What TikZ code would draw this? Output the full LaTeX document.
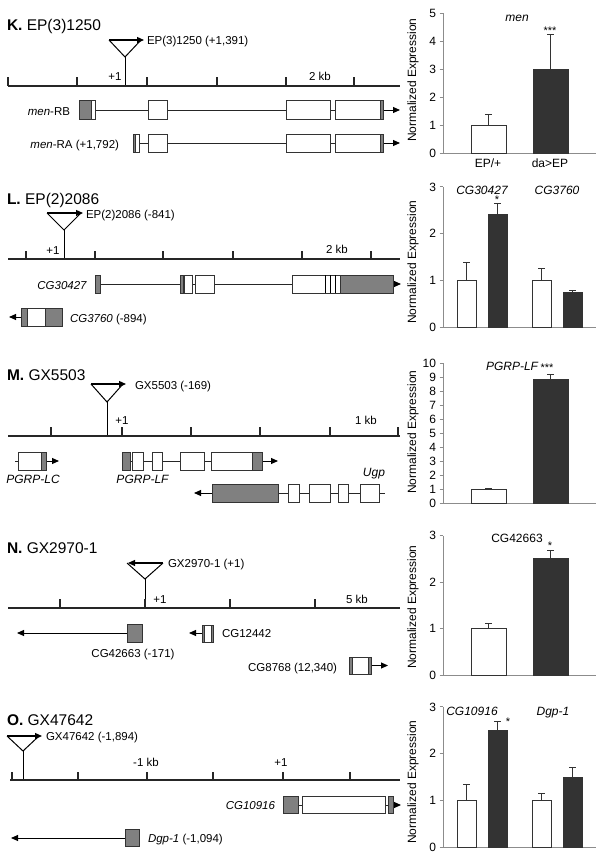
\documentclass[tikz,border=0pt]{standalone}
\usepackage{fontspec}
\setmainfont{Liberation Sans}
\usetikzlibrary{arrows.meta}
\newcommand\chartframe[5]{%
  \draw[caxis] (443,{#2-#4*#3}) -- (443,#2) -- (596,#2);
  \foreach \k in {0,...,#4} {
    \draw[caxis] (439.5,{#2-\k*#3}) -- (443,{#2-\k*#3});
    \node[ctick] (#1t\k) at (436,{#2-\k*#3}) {\k};
  }
  \node[ylab] (#1y) at (413,#5) {Normalized Expression};
}
\newcommand\valbar[7]{%
  \draw[#7] (#1,#3) rectangle (#2,{#3-#5*#4});
  \draw[errl] ({(#1+#2)/2},{#3-#5*#4}) -- ({(#1+#2)/2},{#3-#6*#4})
     ({(#1+#2)/2-3.5},{#3-#6*#4}) -- ({(#1+#2)/2+3.5},{#3-#6*#4});
}
\begin{document}
\begin{tikzpicture}[x=1pt,y=-1pt,
  every node/.style={inner sep=0pt, outer sep=0pt},
  ttl/.style={anchor=base west, font=\fontsize{15.5}{17}\selectfont},
  lab/.style={font=\fontsize{11.5}{13}\selectfont},
  gaxis/.style={line width=1.3pt, black!85},
  gtick/.style={line width=1.1pt, black!85},
  ins/.style={line width=1pt, black},
  insarrow/.style={line width=1.2pt, -{Triangle[length=7pt,width=6pt]}},
  intron/.style={line width=1pt, black!85},
  garrow/.style={line width=1pt, -{Triangle[length=7pt,width=6pt]}},
  exw/.style={draw=black!80, line width=0.7pt, fill=white},
  exg/.style={draw=black!80, line width=0.7pt, fill=black!50},
  caxis/.style={draw=black!45, line width=1pt},
  ctick/.style={anchor=east, font=\fontsize{12}{14}\selectfont},
  ylab/.style={rotate=90, font=\fontsize{12}{14}\selectfont},
  barw/.style={draw=black!80, line width=1pt, fill=white},
  bard/.style={draw=black!80, line width=1pt, fill=black!80},
  errl/.style={line width=1pt, black!80},
  star/.style={font=\fontsize{11}{12}\selectfont},
  gname/.style={font=\fontsize{12}{14}\selectfont\itshape, anchor=base},
  cname/.style={font=\fontsize{12}{14}\selectfont, anchor=base}
]
\useasboundingbox[fill=white] (0,0) rectangle (600,857);

%================ K =================
\node[ttl] (kT) at (7,30) {\textbf{K.} EP(3)1250};
\draw[ins] (109,40) -- (125,57) -- (141,40);
\draw[insarrow] (109,40) -- (144,40);
\draw[ins] (125,57) -- (125,86);
\node[lab, anchor=base west] (kI) at (147,44) {EP(3)1250 (+1,391)};
\draw[gaxis] (8,86) -- (400,86);
\foreach \t in {8,77,147,217,286,354} \draw[gtick] (\t,77) -- (\t,86);
\node[lab,anchor=base] (kP) at (115,80) {+1};
\node[lab,anchor=base] (kB) at (320,80) {2 kb};
% men-RB
\draw[intron] (91,110) -- (383,110);
\draw[garrow] (383,110) -- (400,110);
\draw[exg] (79,100) rectangle (91,119);
\draw[exw] (91,100) rectangle (95,119);
\draw[exw] (148,100) rectangle (167,119);
\draw[exw] (286,100) rectangle (330,119);
\draw[exw] (335,100) rectangle (380,119);
\draw[exg] (380,100) rectangle (383,119);
\node[lab,anchor=base east] (kRB) at (70,115) {\textit{men}-RB};
% men-RA
\draw[intron] (139,143) -- (383,143);
\draw[garrow] (383,143) -- (400,143);
\draw[exg] (133,134) rectangle (135,152);
\draw[exw] (135,134) rectangle (139,152);
\draw[exw] (148,134) rectangle (167,152);
\draw[exw] (286,134) rectangle (330,152);
\draw[exw] (335,134) rectangle (380,152);
\draw[exg] (380,134) rectangle (383,152);
\node[lab,anchor=base east] (kRA) at (119,148) {\textit{men}-RA (+1,792)};
% chart K
\chartframe{k}{153}{28}{5}{80}
\valbar{471}{506}{153}{28}{1}{1.38}{barw}
\valbar{533}{568}{153}{28}{3}{4.25}{bard}
\node[gname] (kG) at (517,21.5) {men};
\node[star] (kS) at (550,31) {***};
\node[cname] (kX1) at (488,167.5) {EP/+};
\node[cname] (kX2) at (550,167.5) {da>EP};

%================ L =================
\node[ttl] (lT) at (7,204) {\textbf{L.} EP(2)2086};
\draw[ins] (47,213) -- (64,230) -- (81,213);
\draw[insarrow] (47,213) -- (83,213);
\draw[ins] (64,230) -- (64,259);
\node[lab, anchor=base west] (lI) at (86,218) {EP(2)2086 (-841)};
\draw[gaxis] (8,259) -- (400,259);
\foreach \t in {26,95,163,233,302,371} \draw[gtick] (\t,251) -- (\t,259);
\node[lab,anchor=base] (lP) at (53,254) {+1};
\node[lab,anchor=base] (lB) at (337,253) {2 kb};
% CG30427
\draw[intron] (100,284) -- (393,284);
\draw[garrow] (393,284) -- (401,284);
\draw[exg] (95,275) rectangle (100,293);
\draw[exg] (180,275) rectangle (183.5,293);
\draw[exw] (184.5,275) rectangle (192,293);
\draw[exw] (195,275) rectangle (214,293);
\draw[exw] (292,275) rectangle (340,293);
\foreach \s in {325,330,335} \draw[line width=1pt] (\s,275) -- (\s,293);
\draw[exg] (340,275) rectangle (393,293);
\node[lab,anchor=base east] (lG1) at (87,289) {\textit{CG30427}};
% CG3760
\draw[garrow] (21,317) -- (9,317);
\draw[exg] (21,308) rectangle (27,326);
\draw[exw] (27,308) rectangle (45,326);
\draw[exg] (45,308) rectangle (62,326);
\node[lab,anchor=base west] (lG2) at (70,322) {\textit{CG3760} (-894)};
% chart L
\chartframe{l}{327}{46.67}{3}{262}
\valbar{457}{476}{327}{46.67}{1}{1.38}{barw}
\valbar{488}{507}{327}{46.67}{2.4}{2.65}{bard}
\valbar{532}{551}{327}{46.67}{1}{1.25}{barw}
\valbar{563}{582}{327}{46.67}{0.73}{0.78}{bard}
\node[gname] (lC1) at (482,194) {CG30427};
\node[gname] (lC2) at (557,194) {CG3760};
\node[star] (lS) at (497,200) {*};

%================ M =================
\node[ttl] (mT) at (7,380) {\textbf{M.} GX5503};
\draw[ins] (91,384) -- (107,402) -- (123,384);
\draw[insarrow] (91,384) -- (126,384);
\draw[ins] (107,402) -- (107,436);
\node[lab, anchor=base west] (mI) at (135,389) {GX5503 (-169)};
\draw[gaxis] (8,436) -- (400,436);
\foreach \t in {51,122,191,260,330,398} \draw[gtick] (\t,427) -- (\t,436);
\node[lab,anchor=base] (mP) at (122,424) {+1};
\node[lab,anchor=base] (mB) at (366,424) {1 kb};
% PGRP-LC
\draw[intron] (15,461) -- (46,461);
\draw[garrow] (46,461) -- (59,461);
\draw[exw] (18,452) rectangle (41,470);
\draw[exg] (41,452) rectangle (46,470);
\node[gname] (mG1) at (33,483) {PGRP-LC};
% PGRP-LF
\draw[intron] (130,461) -- (262,461);
\draw[garrow] (262,461) -- (278,461);
\draw[exg] (122,452) rectangle (130,470);
\draw[exw] (132,452) rectangle (143,470);
\draw[exw] (152,452) rectangle (162,470);
\draw[exw] (180,452) rectangle (204,470);
\draw[exw] (211,452) rectangle (252,470);
\draw[exg] (252,452) rectangle (262,470);
\node[gname] (mG2) at (142.5,483) {PGRP-LF};
% Ugp
\draw[intron] (212,493) -- (385,493);
\draw[garrow] (212,493) -- (194,493);
\draw[exg] (212,484) rectangle (278,502);
\draw[exw] (288,484) rectangle (299,502);
\draw[exw] (309,484) rectangle (330,502);
\draw[exw] (338,484) rectangle (348,502);
\draw[exw] (360,484) rectangle (379,502);
\node[gname] (mG3) at (374,476) {Ugp};
% chart M
\chartframe{m}{503}{14}{10}{432}
\valbar{471}{506}{503}{14}{1}{1.02}{barw}
\valbar{533}{568}{503}{14}{8.85}{9.2}{bard}
\node[gname] (mC) at (512,370) {PGRP-LF};
\node[star] (mS) at (547,368) {***};

%================ N =================
\node[ttl] (nT) at (7,553) {\textbf{N.} GX2970-1};
\draw[ins] (127,563) -- (145,579) -- (163,563);
\draw[insarrow] (163,563) -- (128,563);
\draw[ins] (145,579) -- (145,608);
\node[lab, anchor=base west] (nI) at (168,567) {GX2970-1 (+1)};
\draw[gaxis] (8,608) -- (400,608);
\foreach \t in {60,145,230,315} \draw[gtick] (\t,599) -- (\t,608);
\node[lab,anchor=base] (nP) at (160,603) {+1};
\node[lab,anchor=base] (nB) at (357,603) {5 kb};
% CG42663
\draw[garrow] (127,633) -- (17,633);
\draw[exg] (127,624) rectangle (142,642);
\node[lab,anchor=base] (nG1) at (133,657) {CG42663 (-171)};
% CG12442
\draw[garrow] (202,633) -- (189,633);
\draw[exg] (202,625) rectangle (204,642);
\draw[exw] (204,625) rectangle (211.5,642);
\draw[exg] (211.5,625) rectangle (213.5,642);
\node[lab,anchor=base west] (nG2) at (222,637) {CG12442};
% CG8768
\draw[garrow] (371,665.5) -- (388,665.5);
\draw[exg] (349,657) rectangle (352,674);
\draw[exw] (352,657) rectangle (368,674);
\draw[exg] (368,657) rectangle (371,674);
\node[lab,anchor=base east] (nG3) at (337,671) {CG8768 (12,340)};
% chart N
\chartframe{n}{675}{46.4}{3}{607}
\valbar{471}{506}{675}{46.4}{1}{1.1}{barw}
\valbar{533}{568}{675}{46.4}{2.52}{2.68}{bard}
\node[cname] (nC) at (517,542.5) {CG42663};
\node[star] (nS) at (550,546) {*};

%================ O =================
\node[ttl] (oT) at (7,725) {\textbf{O.} GX47642};
\draw[ins] (7,736) -- (23,751) -- (39,736);
\draw[insarrow] (7,736) -- (42,736);
\draw[ins] (23,751) -- (23,780);
\node[lab, anchor=base west] (oI) at (46,740) {GX47642 (-1,894)};
\draw[gaxis] (10,780) -- (400,780);
\foreach \t in {12,78,147,213,283,350} \draw[gtick] (\t,772) -- (\t,780);
\node[lab,anchor=base] (oB) at (146,766) {-1 kb};
\node[lab,anchor=base] (oP) at (281,766) {+1};
% CG10916
\draw[intron] (298,805) -- (393,805);
\draw[garrow] (393,805) -- (401,805);
\draw[exg] (283,796) rectangle (298,813);
\draw[exw] (302,796) rectangle (385,813);
\draw[exg] (388,796) rectangle (393,813);
\node[lab,anchor=base east] (oG1) at (275,809) {\textit{CG10916}};
% Dgp-1
\draw[garrow] (125,838) -- (11,838);
\draw[exg] (125,829) rectangle (139,846);
\node[lab,anchor=base west] (oG2) at (148,842) {\textit{Dgp-1} (-1,094)};
% chart O
\chartframe{o}{847}{46.67}{3}{782}
\valbar{457}{476}{847}{46.67}{1}{1.35}{barw}
\valbar{488}{507}{847}{46.67}{2.5}{2.7}{bard}
\valbar{532}{551}{847}{46.67}{1}{1.15}{barw}
\valbar{563}{582}{847}{46.67}{1.48}{1.7}{bard}
\node[gname] (oC1) at (472,715) {CG10916};
\node[gname] (oC2) at (553,715) {Dgp-1};
\node[star] (oS) at (508,722) {*};
\end{tikzpicture}
\end{document}
